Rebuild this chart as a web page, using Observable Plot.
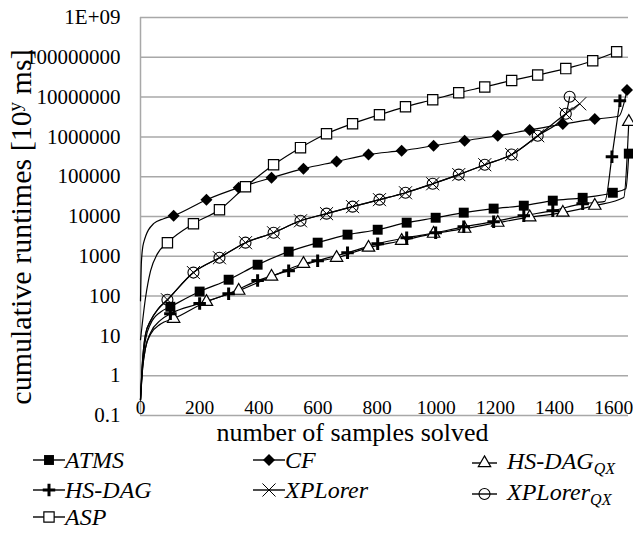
<!DOCTYPE html>
<html><head><meta charset="utf-8">
<script src="https://cdn.jsdelivr.net/npm/d3@7"></script>
<script src="https://cdn.jsdelivr.net/npm/@observablehq/plot@0.6"></script>
<style>
body{margin:0;background:#fff;font-family:"Liberation Serif",serif;}
#wrap{position:relative;width:633px;height:533px;overflow:hidden;}
.item{position:absolute;display:flex;align-items:center;height:28px;font-style:italic;font-size:24px;white-space:nowrap;color:#000;}
.item sub{font-size:16px;vertical-align:-5px;}
</style></head><body><div id="wrap"></div>
<script>
// ---------- data ----------
const xTicks = [0, 200, 400, 600, 800, 1000, 1200, 1400, 1600];
const yTicks = [0.1, 1, 10, 100, 1000, 10000, 100000, 1000000, 10000000, 100000000, 1000000000];
const yTickLabels = ["0.1", "1", "10", "100", "1000", "10000", "100000", "1000000", "10000000", "100000000", "1E+09"];
const xTitle = "number of samples solved";
const yTitle = ["cumulative runtimes [10", "y", " ms]"];

// [samples solved, cumulative runtime (ms), marker shown 1 / curve point only 0]
const atms = [[0,0.25,0],[7,2,0],[17,8,0],[34,20,0],[68,40,0],
  [101,54,1],[200,130,1],[298,258,1],[396,615,1],[501,1310,1],[599,2200,1],[700,3500,1],[802,4650,1],
  [900,7000,1],[998,9300,1],[1093,12500,1],[1194,15800,1],[1296,18700,1],[1394,25000,1],[1495,29500,1],
  [1597,39500,1],[1641,50000,0],[1651,380000,1]];
const cf = [[0,76,0],[3,700,0],[10,2100,0],[44,6600,0],[78,8800,0],
  [112,10500,1],[223,26300,1],[332,53000,1],[443,94000,1],[551,159000,1],[663,240000,1],[771,360000,1],
  [883,450000,1],[991,600000,1],[1096,800000,1],[1208,1070000,1],[1316,1500000,1],[1428,2100000,1],
  [1536,2800000,1],[1617,3300000,0],[1645,15000000,1]];
const hsdagQX = [[0,0.25,0],[7,1.5,0],[17,5,0],[34,11,0],[68,20,0],
  [112,27,1],[223,72,1],[332,137,1],[443,309,1],[551,650,1],[663,920,1],[771,1650,1],[883,2460,1],
  [991,3700,1],[1096,4950,1],[1208,7000,1],[1316,9600,1],[1428,12500,1],[1536,18700,1],[1634,30000,0],
  [1651,2400000,1]];
const hsdag = [[0,0.25,0],[7,1.5,0],[17,5,0],[34,12,0],[68,25,0],
  [101,36,1],[200,65,1],[298,115,1],[396,245,1],[501,435,1],[599,775,1],[700,1230,1],[802,2080,1],
  [900,2930,1],[998,3900,1],[1093,5500,1],[1194,7400,1],[1296,10500,1],[1394,14000,1],[1495,21000,1],
  [1570,24000,0],[1594,318000,1],[1621,8100000,1]];
const xplorer = [[0,0.25,0],[7,2.4,0],[17,11,0],[34,24,0],[60,48,0],
  [91,81,1],[179,390,1],[267,920,1],[355,2200,1],[450,3900,1],[541,7800,1],[629,11800,1],[717,17700,1],
  [808,26500,1],[896,39500,1],[988,66500,1],[1076,113000,1],[1164,200000,1],[1255,360000,1],
  [1343,1070000,1],[1438,3800000,1],[1485,6800000,1]];
const xplorerQX = [[0,0.25,0],[7,2.4,0],[17,11,0],[34,24,0],[60,48,0],
  [91,81,1],[179,390,1],[267,920,1],[355,2200,1],[450,3900,1],[541,7800,1],[629,11800,1],[717,17700,1],
  [808,26500,1],[896,39500,1],[988,66500,1],[1076,113000,1],[1164,200000,1],[1255,360000,1],
  [1343,1070000,1],[1438,3800000,1],[1451,10200000,1]];
const asp = [[0,8,0],[17,91,0],[34,430,0],[57,1150,0],
  [91,2200,1],[179,6600,1],[267,14800,1],[355,56000,1],[450,200000,1],[541,537000,1],[629,1200000,1],
  [717,2150000,1],[808,3600000,1],[896,5700000,1],[988,8600000,1],[1076,12900000,1],[1164,18000000,1],
  [1255,26000000,1],[1343,36000000,1],[1438,52000000,1],[1529,82000000,1],[1610,138000000,1]];

const seriesNames = ["ATMS", "CF", "HS-DAG", "HS-DAG", "XPLorer", "XPLorer", "ASP"];
const seriesSubs  = ["", "", "QX", "", "", "QX", ""];
const seriesData  = [atms, cf, hsdagQX, hsdag, xplorer, xplorerQX, asp];

// ---------- styles ----------
const markerStyles = [
  {symbol: "square",   r: 5.6, fill: "#000", stroke: "none", sw: 0},
  {symbol: "diamond2", r: 5.4, fill: "#000", stroke: "none", sw: 0},
  {symbol: "triangle", r: 4.6, fill: "#fff", stroke: "#000", sw: 1.2},
  {symbol: "plus",     r: 4.1, fill: "none", stroke: "#000", sw: 3},
  {symbol: "times",    r: 6,   fill: "none", stroke: "#000", sw: 1},
  {symbol: "circle",   r: 5.5, fill: "none", stroke: "#000", sw: 1.1},
  {symbol: "square",   r: 5.8, fill: "#fff", stroke: "#000", sw: 1.2}
];
const d3Symbols = {square: d3.symbolSquare, diamond2: d3.symbolDiamond2, triangle: d3.symbolTriangle,
  plus: d3.symbolPlus, times: d3.symbolTimes, circle: d3.symbolCircle};
const gridColor = "#a8a8a8";
const font = "Liberation Serif";

// ---------- chart ----------
const marks = [
  Plot.ruleY(yTicks, {stroke: gridColor, strokeWidth: 1.5}),
  Plot.ruleX([0], {stroke: gridColor, strokeWidth: 1.5}),
  Plot.axisY({ticks: yTicks, tickFormat: d => yTickLabels[yTicks.indexOf(d)], tickSize: 0, tickPadding: 20,
    fontSize: 21, label: null}),
  Plot.axisX({ticks: xTicks, tickFormat: d => String(d), tickSize: 0, dy: -24, fontSize: 19.5, label: null}),
  Plot.text([xTitle], {text: d => d, frameAnchor: "bottom", dx: -32, dy: 25, fontSize: 26})
];
seriesData.forEach((data, i) => {
  marks.push(Plot.line(data, {x: d => d[0], y: d => d[1], stroke: "#000", strokeWidth: 1.2, curve: "monotone-x"}));
});
seriesData.forEach((data, i) => {
  const s = markerStyles[i];
  marks.push(Plot.dot(data.filter(d => d[2]), {x: d => d[0], y: d => d[1], symbol: s.symbol, r: s.r,
    fill: s.fill, stroke: s.stroke, strokeWidth: s.sw}));
});

const chart = Plot.plot({
  width: 633, height: 452,
  marginLeft: 140, marginRight: 5, marginTop: 17, marginBottom: 37,
  style: {fontFamily: font, fontSize: "21px", color: "#000", background: "#fff"},
  x: {domain: [0, 1650]},
  y: {type: "log", domain: [0.1, 1e9]},
  marks
});
const wrap = document.getElementById("wrap");
wrap.appendChild(chart);

// y axis title with superscript
const yl = d3.select(chart).append("text")
  .attr("transform", "translate(20,227) rotate(-90)")
  .attr("text-anchor", "middle").attr("dy", "0.35em")
  .attr("font-family", font).attr("font-size", 30).attr("fill", "#000");
yl.append("tspan").text(yTitle[0]);
yl.append("tspan").attr("baseline-shift", "super").attr("font-size", 19).text(yTitle[1]);
yl.append("tspan").text(yTitle[2]);

// ---------- legend (HTML below the SVG) ----------
const legendPos = [[33,460,32,0],[253,460,32,0],[472,463,25,10],[33,490,32,0],[253,490,32,0],[472,494,25,10],[33,517,32,0]];
seriesNames.forEach((name, i) => {
  const [lx, ly, lw, gap] = legendPos[i];
  const s = markerStyles[i];
  const div = d3.select(wrap).append("div").attr("class", "item")
    .style("left", lx + "px").style("top", (ly - 14) + "px");
  const sv = div.append("svg").attr("width", lw).attr("height", 20).style("margin-right", gap + "px");
  sv.append("line").attr("x1", 0).attr("x2", lw).attr("y1", 10).attr("y2", 10).attr("stroke", "#000").attr("stroke-width", 1.4);
  sv.append("path").attr("transform", `translate(${lw / 2},10)`)
    .attr("d", d3.symbol(d3Symbols[s.symbol], Math.PI * s.r * s.r)())
    .attr("fill", s.fill).attr("stroke", s.stroke).attr("stroke-width", s.sw);
  const t = div.append("span").text(name);
  if (seriesSubs[i]) t.append("sub").text(seriesSubs[i]);
});
</script>
</body></html>
